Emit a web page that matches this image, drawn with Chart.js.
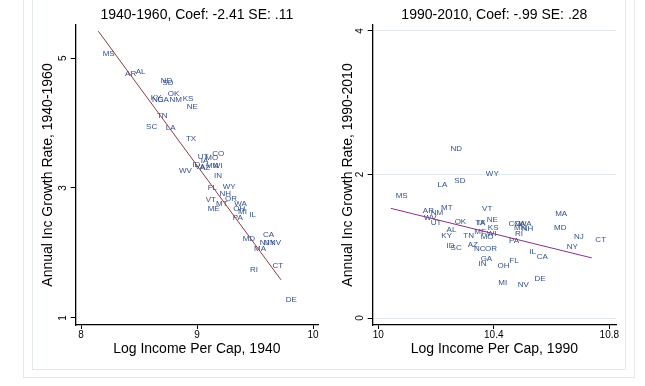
<!DOCTYPE html>
<html>
<head>
<meta charset="utf-8">
<script src="https://cdn.jsdelivr.net/npm/chart.js@4.4.1/dist/chart.umd.min.js"></script>
<style>
  body { margin: 0; background: #fff; }
  #wrap { position: relative; width: 645px; height: 386px; overflow: hidden; background: #fff; }
  .frame { position: absolute; border: 1px solid #e3e8eb; }
  canvas { position: absolute; top: 0; }
</style>
</head>
<body>
<div id="wrap">
  <div class="frame" style="left:23px;top:-10px;width:610px;height:386px"></div>
  <div class="frame" style="left:32px;top:-10px;width:592px;height:378px"></div>
  <canvas id="left" width="330" height="386" style="left:0"></canvas>
  <canvas id="right" width="315" height="386" style="left:330px"></canvas>
</div>
<script>
// 1940-1960 panel
const states40 = ['MS','AR','AL','ND','SD','OK','KY','NC','GA','NM','KS','NE','TN','SC','LA','TX',
  'UT','CO','MO','IA','ID','VA','AZ','MN','WI','WV','IN','FL','WY','NH','VT','OR','MT','ME',
  'WA','OH','MI','IL','PA','MD','CA','NJ','NY','NV','MA','RI','CT','DE'];
const inc40 = [8.148,8.341,8.432,8.648,8.662,8.709,8.562,8.573,8.619,8.723,8.838,8.872,8.616,8.522,8.691,8.866,
  8.967,9.093,9.033,8.993,8.921,8.944,8.987,9.039,9.097,8.806,9.108,9.053,9.183,9.155,9.036,9.203,9.125,9.053,
  9.283,9.274,9.315,9.412,9.269,9.355,9.530,9.501,9.539,9.590,9.453,9.418,9.612,9.726];
const growth40 = [5.062,4.754,4.785,4.651,4.620,4.457,4.395,4.359,4.359,4.359,4.374,4.246,4.108,3.938,3.928,3.754,
  3.487,3.534,3.464,3.420,3.354,3.328,3.313,3.343,3.343,3.262,3.195,3.005,3.020,2.908,2.815,2.831,2.754,2.672,
  2.754,2.677,2.631,2.585,2.543,2.215,2.277,2.149,2.149,2.149,2.062,1.738,1.800,1.277];
const fitX40 = [8.149, 9.724];
const fitY40 = [5.415, 1.585];
const xTicks40 = [8, 9, 10];
const yTicks40 = [1, 3, 5];

// 1990-2010 panel
const states90 = ['MS','AR','NM','MT','WV','UT','OK','VT','NE','TX','IA','KS','ME','WI','AL','KY','TN','MO',
  'ID','SC','AZ','NC','OR','GA','IN','OH','FL','MI','NV','DE','IL','CA','PA','RI','CO','VA','WA','MN','NH',
  'MA','MD','NJ','NY','CT','ND','WY','SD','LA'];
const inc90 = [10.045,10.139,10.166,10.202,10.142,10.166,10.249,10.344,10.360,10.320,10.329,10.364,10.317,10.360,
  10.221,10.203,10.279,10.339,10.221,10.235,10.294,10.316,10.354,10.339,10.332,10.397,10.438,10.400,10.467,10.525,
  10.507,10.533,10.437,10.458,10.435,10.458,10.472,10.454,10.481,10.597,10.593,10.662,10.637,10.736,10.235,10.357,
  10.248,10.190];
const growth90 = [1.708,1.500,1.468,1.542,1.398,1.324,1.347,1.518,1.371,1.324,1.324,1.259,1.199,1.176,1.227,1.143,
  1.139,1.125,1.004,0.982,1.014,0.958,0.958,0.819,0.754,0.722,0.796,0.486,0.458,0.542,0.921,0.847,1.083,1.167,
  1.310,1.310,1.310,1.259,1.245,1.458,1.264,1.125,0.990,1.093,2.361,2.004,1.917,1.861];
const fitX90 = [10.044, 10.739];
const fitY90 = [1.528, 0.838];
const xTicks90 = [10, 10.4, 10.8];
const yTicks90 = [0, 2, 4];

Chart.defaults.font.family = '"Liberation Sans", Arial, sans-serif';
Chart.defaults.color = '#000';

// state abbreviations drawn right of each (invisible) marker
const stateLabels = {
  id: 'stateLabels',
  beforeDatasetsDraw(chart, args, opts) {
    const ctx = chart.ctx;
    const meta = chart.getDatasetMeta(0);
    ctx.save();
    ctx.font = '8px "Liberation Sans", Arial, sans-serif';
    ctx.fillStyle = '#33508a';
    ctx.textBaseline = 'middle';
    ctx.textAlign = 'left';
    meta.data.forEach((pt, i) => {
      ctx.fillText(opts.names[i], pt.x + 4.5, pt.y);
    });
    ctx.restore();
  }
};

function makePanel(id, p) {
  const pts = p.x.map((v, i) => ({ x: v, y: p.y[i] }));
  const fit = p.fitX.map((v, i) => ({ x: v, y: p.fitY[i] }));
  return new Chart(document.getElementById(id), {
    type: 'scatter',
    data: {
      datasets: [
        { data: pts, pointRadius: 0, pointHoverRadius: 0 },
        { type: 'line', data: fit, borderColor: p.lineColor, borderWidth: 1, pointRadius: 0, fill: false }
      ]
    },
    options: {
      responsive: false,
      animation: false,
      devicePixelRatio: 1,
      layout: { padding: { left: 0, right: p.padRight, top: 0, bottom: 0 } },
      plugins: {
        legend: { display: false },
        tooltip: { enabled: false },
        title: {
          display: true, text: p.title, fullSize: false, color: '#000',
          font: { size: 14, weight: 'normal' }, padding: { top: 7, bottom: 1.2 }
        },
        stateLabels: { names: p.names }
      },
      scales: {
        x: {
          type: 'linear', min: p.xMin, max: p.xMax,
          afterBuildTicks: s => { s.ticks = p.xTicks.map(v => ({ value: v })); },
          afterFit: s => { s.height = 61; },
          border: { color: '#000', width: 1.3 },
          grid: { drawOnChartArea: false, tickColor: '#000', tickLength: 4, tickWidth: 1 },
          ticks: { padding: 0, color: '#000', font: { size: 10 }, maxRotation: 0, callback: v => String(v) },
          title: { display: true, text: p.xTitle, color: '#000', font: { size: 14 }, padding: { top: 0, bottom: 28.6 } }
        },
        y: {
          type: 'linear', min: p.yMin, max: p.yMax,
          afterBuildTicks: s => { s.ticks = p.yTicks.map(v => ({ value: v })); },
          afterFit: s => { s.width = p.yWidth; },
          border: { color: '#000', width: 1.3 },
          grid: { drawOnChartArea: p.grid, color: '#e1e9ed', lineWidth: 1, tickColor: '#000', tickLength: 5, tickWidth: 1 },
          ticks: { minRotation: 90, maxRotation: 90, crossAlign: 'center', padding: 4.5, color: '#000',
                   font: { size: 10 }, callback: v => String(v) },
          title: { display: true, text: p.yTitle, color: '#000', font: { size: 14 }, padding: { top: p.yTitlePad, bottom: 0 } }
        }
      }
    },
    plugins: [stateLabels]
  });
}

makePanel('left', {
  names: states40, x: inc40, y: growth40, fitX: fitX40, fitY: fitY40,
  xTicks: xTicks40, yTicks: yTicks40, xMin: 7.954, xMax: 10.043, yMin: 0.89, yMax: 5.51,
  lineColor: '#8d3a42', grid: false, padRight: 12, yWidth: 75.7, yTitlePad: 39.6,
  title: '1940-1960, Coef: -2.41 SE: .11',
  xTitle: 'Log Income Per Cap, 1940', yTitle: 'Annual Inc Growth Rate, 1940-1960'
});

makePanel('right', {
  names: states90, x: inc90, y: growth90, fitX: fitX90, fitY: fitY90,
  xTicks: xTicks90, yTicks: yTicks90, xMin: 9.981, xMax: 10.823, yMin: -0.097, yMax: 4.083,
  lineColor: '#8a2e8c', grid: true, padRight: 29, yWidth: 42.7, yTitlePad: 9.6,
  title: '1990-2010, Coef: -.99 SE: .28',
  xTitle: 'Log Income Per Cap, 1990', yTitle: 'Annual Inc Growth Rate, 1990-2010'
});
</script>
</body>
</html>
